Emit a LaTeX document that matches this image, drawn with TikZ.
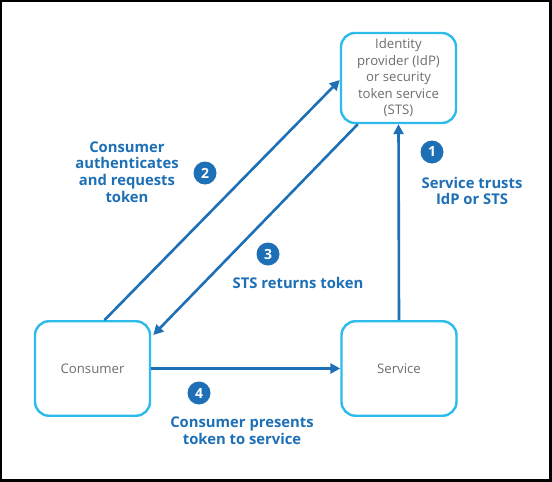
\documentclass[tikz,border=0pt]{standalone}
\usepackage{fontspec}
\setmainfont{Open Sans}
\usetikzlibrary{arrows.meta}
\definecolor{boxblue}{HTML}{2DBBEB}
\definecolor{arrowblue}{HTML}{1E70B6}
\definecolor{textgray}{HTML}{6E6E6E}
\tikzset{
	party/.style={draw=boxblue,line width=2.4pt,rounded corners=14pt,minimum width=115pt,align=center,text=textgray,font=\fontsize{13.2}{16.5}\selectfont},
	flow/.style={draw=arrowblue,line width=2.6pt,-{Triangle[length=10pt,width=10pt]}},
	badge/.style={circle,fill=arrowblue,text=white,inner sep=0pt,minimum size=23pt,font=\fontsize{14}{14}\selectfont\bfseries},
	caption/.style={text=arrowblue,align=center,font=\fontsize{14.8}{16.8}\selectfont\bfseries}
}
\begin{document}
\begin{tikzpicture}[x=1pt,y=-1pt]
				\fill[black] (0,0) rectangle (552,482);
				\fill[white] (2,2) rectangle (549,479);
				\node[party,minimum height=90pt] (idp) at (398.5,78) {Identity\\provider (IdP)\\or security\\token service\\(STS)};
				\node[party,minimum height=94.5pt] (cons) at (92.5,368.5) {Consumer};
				\node[party,minimum height=94.5pt] (serv) at (399,368.5) {Service};
				\draw[flow] (serv.north) -- (idp.south);
				\draw[flow] ([xshift=12pt]cons.north) -- ([yshift=-2pt]idp.west);
				\draw[flow] ([xshift=18pt]idp.south west) -- ([yshift=-15pt,xshift=2pt]cons.north east);
				\draw[flow] (cons.east) -- (serv.west);
				\node[badge] (b1) at (432,152) {1};
				\node[badge] (b2) at (205,173) {2};
				\node[badge] (b3) at (268,254) {3};
				\node[badge] (b4) at (199,393) {4};
				\node[caption] (l1) at (472,191) {Service trusts\\IdP or STS};
				\node[caption] (l2) at (127,172) {Consumer\\authenticates\\and requests\\token};
				\node[caption] (l3) at (298,283) {STS returns token};
				\node[caption] (l4) at (242,431) {Consumer presents\\token to service};
			\end{tikzpicture}
\end{document}
